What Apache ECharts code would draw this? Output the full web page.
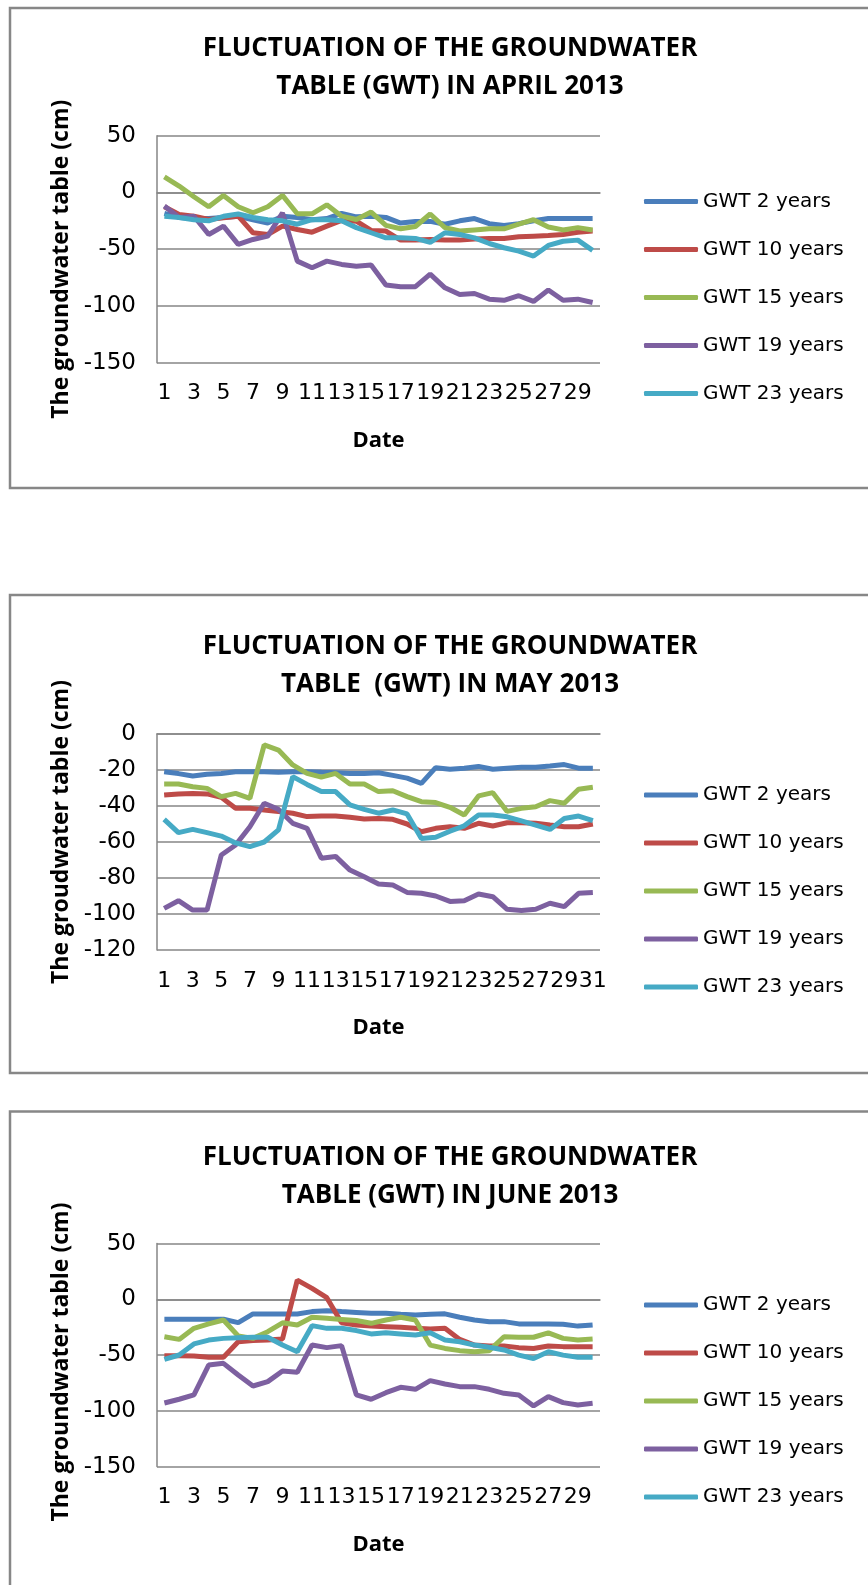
<!DOCTYPE html>
<html>
<head>
<meta charset="utf-8">
<title>Fluctuation of the groundwater table 2013</title>
<script src="https://cdn.jsdelivr.net/npm/echarts@6/dist/echarts.min.js"></script>
<style>
    html, body { margin: 0; padding: 0; background: #fff; }
    #main { width: 868px; height: 1585px; }
</style>
</head>
<body>
<div id="main"></div>
<script>
// series names, same for all three months
var seriesNames = ['GWT 2 years', 'GWT 10 years', 'GWT 15 years', 'GWT 19 years', 'GWT 23 years'];
var seriesColors = ['#4A7EBB', '#BE4B48', '#98B954', '#7D60A0', '#46AAC5'];

// April 2013
var aprilDays = ['1','2','3','4','5','6','7','8','9','10','11','12','13','14','15','16','17','18','19','20','21','22','23','24','25','26','27','28','29','30'];
var aprilGwt2 = [-18.5, -22, -23, -23, -22, -21, -24, -27, -21, -22, -24, -23, -18.5, -21.5, -21, -22, -27, -25.5, -25.5, -28, -25, -23, -27.5, -29, -27.5, -25, -23, -23, -23, -23];
var aprilGwt10 = [-12.6, -19.4, -20.9, -23.8, -22.3, -20.9, -35.5, -37, -29.7, -32.6, -35, -29.7, -24.7, -25.3, -33.5, -34, -42, -42, -41.4, -42, -42, -41, -40.5, -40.5, -39, -38.5, -38, -37, -35, -34];
var aprilGwt15 = [13.8, 5.6, -3.8, -12.6, -2.6, -12.6, -17.9, -12.6, -2.6, -18.8, -18.8, -10.9, -20.9, -23.8, -17.3, -29, -32, -30, -19, -31, -34, -33, -32, -32, -28, -24, -30.5, -33, -31, -33];
var aprilGwt19 = [-12, -22, -21, -37, -29.7, -45.8, -41.4, -38.5, -18, -60.5, -66.4, -60.5, -63.4, -65, -64, -81.6, -83, -83, -72, -84, -90, -89, -94, -95, -91, -96, -86, -95, -94, -97];
var aprilGwt23 = [-21, -22, -24, -25, -21, -19, -22, -24, -25, -28, -24, -24, -25, -31, -35.5, -40, -40, -40.5, -44, -35.5, -37, -40, -45, -48.7, -51.7, -56, -46.7, -43, -42, -51];

// May 2013
var mayDays = ['1','2','3','4','5','6','7','8','9','10','11','12','13','14','15','16','17','18','19','20','21','22','23','24','25','26','27','28','29','30','31'];
var mayGwt2 = [-21, -22, -23.3, -22.4, -22, -21, -21, -21, -21.3, -21, -21, -21.3, -21.5, -22, -22, -21.5, -23, -24.5, -27.4, -18.7, -19.6, -19, -18, -19.6, -19, -18.5, -18.5, -17.8, -17, -19, -19];
var mayGwt10 = [-33.9, -33.3, -33, -33.3, -35.2, -41.3, -41.3, -42.2, -43.1, -44, -45.9, -45.5, -45.5, -46.3, -47.2, -46.9, -47.4, -50, -54.3, -52.4, -51.5, -52.4, -49.6, -51.1, -49.3, -49.3, -49.6, -50.6, -51.5, -51.5, -50];
var mayGwt15 = [-27.8, -27.8, -29.3, -30.2, -34.8, -33, -35.7, -6.1, -8.9, -17.2, -21.9, -24, -21.9, -27.8, -27.8, -32, -31.5, -34.8, -37.6, -38.1, -40.7, -45, -34.4, -32.6, -43, -41.3, -40.4, -37, -38.5, -30.7, -29.6];
var mayGwt19 = [-96.9, -92.6, -97.8, -97.8, -67.2, -61.7, -51.5, -38.5, -41.9, -49.6, -52.4, -69, -68, -75.6, -79.3, -83.3, -83.9, -88, -88.5, -90, -93, -92.6, -88.9, -90.4, -97.4, -98.1, -97.4, -94, -95.9, -88.5, -88.1];
var mayGwt23 = [-47.4, -54.8, -53, -54.8, -56.7, -60.5, -62.6, -60, -53.3, -23.7, -28, -32, -32, -39.4, -41.9, -44, -42.2, -44.4, -58, -57.4, -54, -51, -45, -45, -46, -48.3, -50.6, -53, -46.9, -45.6, -48.1];

// June 2013
var juneDays = ['1','2','3','4','5','6','7','8','9','10','11','12','13','14','15','16','17','18','19','20','21','22','23','24','25','26','27','28','29','30'];
var juneGwt2 = [-17.9, -17.9, -17.9, -17.9, -17.9, -20.9, -13.1, -13.1, -13.1, -13.1, -11, -10.2, -11, -11.7, -12.5, -12.5, -13.4, -14, -13.4, -13, -16, -18.5, -20, -20, -22, -22, -22, -22.3, -24, -23];
var juneGwt10 = [-50.5, -50.5, -50.8, -52, -52, -38, -37, -36.5, -35.5, 17.3, 9.9, 1.5, -21, -23, -24, -24.5, -25, -26, -26.6, -26, -35.9, -41, -41.8, -41.8, -43.3, -44, -41.8, -42.4, -42.4, -42.4];
var juneGwt15 = [-33.5, -35.9, -26, -22, -18.5, -32.9, -35, -29, -21, -23, -16, -17, -18, -19, -21.5, -18.5, -16, -18.5, -41, -44, -46, -47, -46, -33.5, -34, -34, -30, -35, -36.5, -35.6];
var juneGwt19 = [-93, -89.6, -85.7, -58.9, -57.4, -67.8, -77.7, -73.8, -64.2, -65.4, -41, -43.3, -41.5, -85.7, -89.6, -83.7, -78.9, -80.7, -72.9, -75.9, -78.3, -78.3, -80.7, -84.3, -85.7, -95.6, -87.2, -92.6, -94.7, -93.2];
var juneGwt23 = [-53.8, -49.9, -40, -36.5, -35, -34.4, -34, -34, -41, -47, -23.6, -26, -26, -28, -31, -30, -31, -32, -30, -36.5, -38, -41, -43, -45.4, -50, -53, -47, -50, -52, -52];

var titles = [
    'FLUCTUATION OF THE GROUNDWATER\nTABLE (GWT) IN APRIL 2013',
    'FLUCTUATION OF THE GROUNDWATER\nTABLE  (GWT) IN MAY 2013',
    'FLUCTUATION OF THE GROUNDWATER\nTABLE (GWT) IN JUNE 2013'
];
var yNames = ['The groundwater table (cm)', 'The groudwater table (cm)', 'The groundwater table (cm)'];
var yRanges = [[-150, 50, 50], [-120, 0, 20], [-150, 50, 50]];

var months = [
    {days: aprilDays, values: [aprilGwt2, aprilGwt10, aprilGwt15, aprilGwt19, aprilGwt23]},
    {days: mayDays, values: [mayGwt2, mayGwt10, mayGwt15, mayGwt19, mayGwt23]},
    {days: juneDays, values: [juneGwt2, juneGwt10, juneGwt15, juneGwt19, juneGwt23]}
];

// layout of the three panels (page pixels)
var boxes = [{top: 8, bottom: 488}, {top: 595, bottom: 1073}, {top: 1111.5, bottom: 1600}];
var grids = [
    {left: 157, top: 135.7, width: 443, height: 227},
    {left: 157, top: 734, width: 443, height: 216},
    {left: 157, top: 1243.6, width: 443, height: 223}
];
var titleTops = [25, 623, 1134];
var legendTops = [186.5, 780, 1290];
// shifts the rotated y name along the axis (excel does not centre it exactly)
var yNamePads = [[0, 20, 0, 0], [0, 0, 0, 20], [0, 14, 0, 0]];

var gridColor = '#868686';
var labelFont = 'DejaVu Sans';
var boldFont = 'Open Sans';

var option = {
    backgroundColor: '#fff',
    animation: false,
    title: [],
    legend: [],
    grid: [],
    xAxis: [],
    yAxis: [],
    series: [],
    graphic: []
};

for (var m = 0; m < 3; m++) {
    option.graphic.push({
        type: 'rect',
        shape: {x: 10, y: boxes[m].top, width: 880, height: boxes[m].bottom - boxes[m].top},
        style: {fill: null, stroke: '#878787', lineWidth: 2.5},
        silent: true
    });
    option.title.push({
        text: titles[m],
        left: 445,
        top: titleTops[m],
        textAlign: 'center',
        textStyle: {fontFamily: boldFont, fontWeight: 'bold', fontSize: 26, lineHeight: 38, color: '#000'}
    });
    option.grid.push({left: grids[m].left, top: grids[m].top, width: grids[m].width, height: grids[m].height});
    option.xAxis.push({
        type: 'category',
        gridIndex: m,
        data: months[m].days,
        boundaryGap: true,
        name: 'Date',
        nameLocation: 'middle',
        nameGap: 67,
        nameTextStyle: {fontFamily: boldFont, fontWeight: 'bold', fontSize: 22, color: '#000'},
        axisLine: {show: true, lineStyle: {color: gridColor, width: 1.5}},
        axisTick: {show: false},
        // every other day, like the excel original
        axisLabel: {interval: 1, margin: 20, fontFamily: labelFont, fontSize: 22, color: '#000'},
        splitLine: {show: false}
    });
    option.yAxis.push({
        type: 'value',
        gridIndex: m,
        min: yRanges[m][0],
        max: yRanges[m][1],
        interval: yRanges[m][2],
        name: yNames[m],
        nameLocation: 'middle',
        nameGap: 84,
        nameTextStyle: {fontFamily: boldFont, fontWeight: 'bold', fontSize: 23, color: '#000', padding: yNamePads[m]},
        axisLine: {show: true, lineStyle: {color: gridColor, width: 1.5}},
        axisTick: {show: false},
        axisLabel: {margin: 21, fontFamily: labelFont, fontSize: 23, color: '#000'},
        splitLine: {show: true, lineStyle: {color: gridColor, width: 1.5}}
    });
    for (var s = 0; s < seriesNames.length; s++) {
        option.series.push({
            name: seriesNames[s],
            type: 'line',
            xAxisIndex: m,
            yAxisIndex: m,
            data: months[m].values[s],
            symbol: 'none',
            color: seriesColors[s],
            lineStyle: {width: 5, color: seriesColors[s]}
        });
    }
    option.legend.push({
        orient: 'vertical',
        left: 639,
        top: legendTops[m],
        data: seriesNames,
        icon: 'roundRect',
        itemWidth: 54,
        itemHeight: 5,
        itemGap: 28,
        textStyle: {fontFamily: labelFont, fontSize: 20, color: '#000', lineHeight: 20}
    });
}

var myChart = echarts.init(document.getElementById('main'));
myChart.setOption(option);
</script>
</body>
</html>
